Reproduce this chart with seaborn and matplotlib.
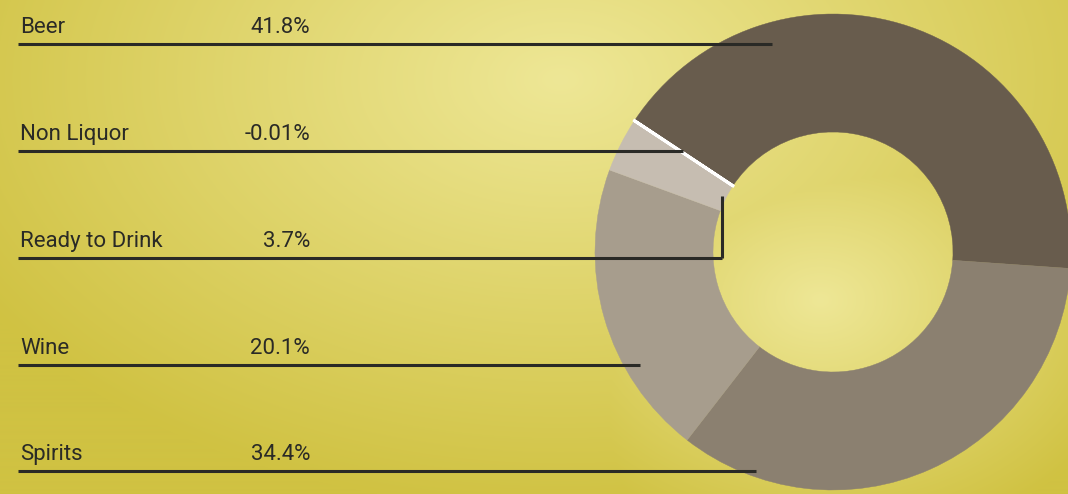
import numpy as np
import matplotlib
matplotlib.use("Agg")
import matplotlib.pyplot as plt
import seaborn as sns

# ---- data ----
categories = ["Beer", "Non Liquor", "Ready to Drink", "Wine", "Spirits"]
shares = [41.8, -0.01, 3.7, 20.1, 34.4]
share_labels = ["41.8%", "-0.01%", "3.7%", "20.1%", "34.4%"]
ring_order = ["Beer", "Spirits", "Wine", "Ready to Drink", "Non Liquor"]
ring_colors = {"Beer": "#685c4d", "Spirits": "#8b8070", "Wine": "#a79d8d",
               "Ready to Drink": "#c6bdb1", "Non Liquor": "#ffffff"}

sns.set_theme(style="white")
plt.rcParams['font.family'] = ['Roboto', 'DejaVu Sans']

W, H = 1068, 494
fig = plt.figure(figsize=(W / 100, H / 100), dpi=100)
ax = fig.add_axes([0, 0, 1, 1])

# background: smooth yellow gradient
yy, xx = np.mgrid[0:H, 0:W]
d1 = np.sqrt(((xx - 560) / 520.0) ** 2 + ((yy - 80) / 330.0) ** 2)
d2 = np.sqrt(((xx - 820) / 320.0) ** 2 + ((yy - 300) / 240.0) ** 2)
t = np.clip(np.minimum(d1, d2 * 1.25), 0, 1.3) / 1.3
light = np.array([238, 231, 150]) / 255.0
dark = np.array([208, 194, 66]) / 255.0
bg = light[None, None, :] * (1 - t[..., None]) + dark[None, None, :] * t[..., None]
ax.imshow(bg, extent=[0, W, 0, H], origin="upper", zorder=0, aspect="auto")

# donut
cx, cy, R = 833, H - 252, 238
vals = [abs(shares[categories.index(c)]) for c in ring_order]
cols = [ring_colors[c] for c in ring_order]
wedges, _ = ax.pie(vals, colors=cols, startangle=146.5, counterclock=False,
                   center=(cx, cy), radius=R, frame=True,
                   wedgeprops=dict(width=R - 120, linewidth=0.3, edgecolor="none"))
for w, c in zip(wedges, ring_order):
    w.set_zorder(2)
    if c == "Non Liquor":
        w.set_edgecolor("white")
        w.set_linewidth(2.2)
        w.set_zorder(3)
    else:
        w.set_edgecolor(w.get_facecolor())

# labels and leader lines
rows_y = [44, 151, 258, 365, 471]
line_end = [772, 683, 722, 640, 756]
line_col = "#2a2a26"
for cat, lab, ly, xe in zip(categories, share_labels, rows_y, line_end):
    ax.text(20, H - (ly - 11), cat, fontsize=16, color=line_col, ha="left", va="baseline", zorder=5)
    ax.text(310, H - (ly - 11), lab, fontsize=16, color=line_col, ha="right", va="baseline", zorder=5)
    ax.plot([18, xe], [H - ly, H - ly], color=line_col, lw=2.2, solid_capstyle="butt", zorder=4)
    if cat == "Ready to Drink":
        ax.plot([xe, xe], [H - ly, H - 196], color=line_col, lw=2.2, solid_capstyle="butt", zorder=4)

ax.set_xlim(0, W)
ax.set_ylim(0, H)
ax.set_aspect("auto")
ax.axis("off")
fig.savefig("out.png", dpi=100)
